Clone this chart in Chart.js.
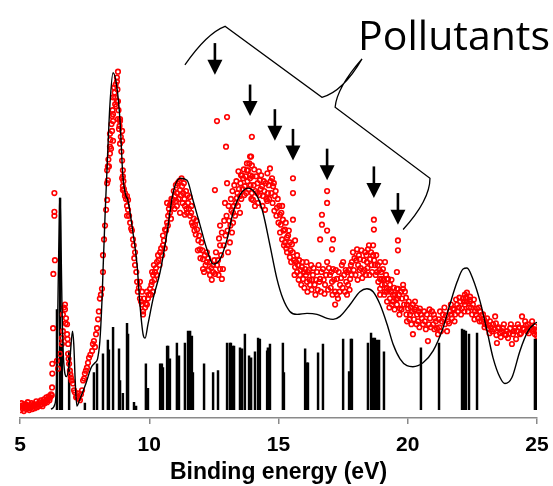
<!DOCTYPE html>
<html>
<head>
<meta charset="utf-8">
<script src="https://cdn.jsdelivr.net/npm/chart.js@4.4.0/dist/chart.umd.min.js"></script>
<style>
  html, body { margin: 0; padding: 0; background: #fff; }
  #wrap { width: 553px; height: 486px; position: relative; }
</style>
</head>
<body>
<div id="wrap"><canvas id="chart"></canvas></div>
<script>
// --- Data (binding energy in eV, intensity in arbitrary units) ---
const xTicks = [5, 10, 15, 20, 25];

// measured spectrum, split by energy range: [eV, intensity]
const expOnset = [
  [5.00,12],[5.03,8],[5.06,15],[5.09,10],[5.12,13],[5.15,7],[5.18,11],[5.21,14],[5.24,9],[5.27,12],
  [5.30,16],[5.33,10],[5.36,8],[5.39,13],[5.42,11],[5.45,15],[5.48,9],[5.51,12],[5.54,14],[5.57,10],
  [5.60,13],[5.63,17],[5.66,11],[5.69,14],[5.72,12],[5.75,16],[5.78,13],[5.81,18],[5.84,14],[5.87,12],
  [5.90,16],[5.93,19],[5.96,15],[5.99,17],[6.02,21],[6.05,16],[6.08,19],[6.11,22],[6.14,18],[6.17,21],
  [6.20,24],[6.23,23],[6.24,31],[6.25,45],[6.25,55],[6.28,91],[6.29,146],[6.33,205],[6.33,209],[6.33,228],
  [6.35,160]
];
const expRise = [
  [6.43,58],[6.47,50],[6.55,65],[6.62,75],[6.62,81],[6.66,88],[6.66,105],[6.70,112],[6.74,115],[6.74,110],
  [6.76,96],[6.78,101],[6.82,95],[6.82,85],[6.84,80],[6.86,75],[6.86,65],[6.88,60],[6.90,55],[6.93,48],
  [6.95,44],[6.97,41],[7.00,38],[7.05,35],[7.09,28],[7.12,26],[7.17,21],[7.20,22],[7.24,25],[7.28,20],
  [7.32,18],[7.36,24],[7.40,28],[7.44,38],[7.48,40],[7.51,45],[7.55,48],[7.59,51],[7.63,56],[7.67,61],
  [7.72,64],[7.79,68],[7.82,75],[7.86,78],[7.90,72],[7.94,85],[7.98,91],[8.02,100],[8.05,108],[8.09,121],
  [8.13,125],[8.17,131],[8.21,148],[8.21,165],[8.25,181],[8.29,195],[8.33,211],[8.37,221],[8.37,238]
];
const expPeak = [
  [8.37,251],[8.40,241],[8.40,255],[8.42,262],[8.44,255],[8.48,268],[8.48,275],[8.48,288],[8.50,282],[8.52,273],
  [8.54,298],[8.56,291],[8.56,306],[8.58,312],[8.60,281],[8.60,301],[8.60,308],[8.60,325],[8.64,335],[8.66,330],
  [8.68,318],[8.68,325],[8.70,338],[8.72,316],[8.75,321],[8.75,341],[8.75,345],[8.77,333],[8.79,321],[8.79,351],
  [8.79,303],[8.81,312],[8.83,293],[8.85,296],[8.87,278],[8.87,301],[8.87,303],[8.90,285],[8.92,270],[8.95,243],
  [8.95,261],[8.95,281],[8.95,291],[8.98,231],[8.98,235],[8.98,245],[8.98,251],[9.00,240],[9.02,232],[9.06,225],
  [9.06,228],[9.10,222],[9.14,205],[9.14,215],[9.14,225],[9.18,211],[9.18,221],[9.22,205],[9.26,198],[9.30,192],
  [9.33,190],[9.37,181],[9.40,175],[9.42,162],[9.45,155],[9.45,168],[9.50,148],[9.53,138],[9.56,128],[9.60,132],
  [9.64,121],[9.64,138],[9.68,118],[9.72,115],[9.72,128],[9.76,105],[9.76,108],[9.80,121],[9.84,112],[9.87,116],
  [9.91,115],[9.91,128],[9.95,121],[9.98,125],[10.03,131],[10.05,125],[10.08,135],[10.11,138],[10.11,148],[10.14,128],
  [10.15,145],[10.18,155],[10.20,140],[10.22,148],[10.26,152],[10.28,145],[10.30,158],[10.34,165],[10.36,160],[10.40,155],
  [10.42,168],[10.46,172],[10.50,165],[10.53,175],[10.53,185],[10.57,180],[10.60,172],[10.61,191],[10.65,190],[10.69,198],
  [10.69,218],[10.72,195],[10.73,205],[10.76,212],[10.80,208],[10.80,216],[10.84,202],[10.86,222],[10.88,215],[10.92,221],
  [10.95,230],[10.98,212],[11.00,225],[11.03,236],[11.04,220],[11.07,215],[11.07,228],[11.10,238],[11.13,222],[11.16,240],
  [11.19,208],[11.19,231],[11.23,226],[11.25,243],[11.27,235],[11.29,218],[11.31,228],[11.34,238],[11.36,222],[11.38,206],
  [11.38,215],[11.42,230],[11.44,212],[11.46,208],[11.48,226],[11.50,218],[11.54,212],[11.56,224],[11.58,205],[11.62,208],
  [11.63,215],[11.65,198],[11.69,195],[11.72,202],[11.75,190],[11.77,196],[11.80,186],[11.82,200],[11.85,191],[11.88,170],
  [11.90,180],[11.93,185]
];
const expMiddle = [
  [11.96,171],[11.98,162],[12.02,178],[12.05,170],[12.08,151],[12.08,161],[12.12,148],[12.15,165],[12.18,155],[12.23,158],
  [12.23,168],[12.28,162],[12.30,150],[12.35,145],[12.35,158],[12.40,152],[12.42,140],[12.47,148],[12.47,155],[12.52,160],
  [12.55,146],[12.58,168],[12.62,155],[12.66,160],[12.68,145],[12.70,182],[12.74,151],[12.74,175],[12.74,195],[12.78,165],
  [12.81,141],[12.81,188],[12.85,151],[12.88,175],[12.90,200],[12.93,218],[12.95,185],[12.99,205],[13.03,190],[13.05,168],
  [13.07,215],[13.09,200],[13.12,178],[13.14,195],[13.16,222],[13.18,210],[13.20,188],[13.22,230],[13.24,198],[13.24,208],
  [13.27,215],[13.29,236],[13.32,205],[13.35,218],[13.37,240],[13.39,223],[13.41,228],[13.43,215],[13.45,250],[13.47,232],
  [13.51,208],[13.51,225],[13.53,238],[13.56,222],[13.59,246],[13.61,232],[13.63,243],[13.66,252],[13.68,226],[13.70,235],
  [13.73,245],[13.75,228],[13.80,240],[13.82,251],[13.85,232],[13.87,258],[13.90,243],[13.92,236],[13.95,222],[13.97,228],
  [13.99,245],[14.01,221],[14.04,236],[14.06,252],[14.09,215],[14.11,230],[14.13,245],[14.17,228],[14.19,238],[14.21,218],
  [14.24,250],[14.26,226],[14.28,241],[14.31,232],[14.33,246],[14.36,235],[14.38,215],[14.40,225],[14.43,240],[14.45,230],
  [14.48,211],[14.51,238],[14.53,222],[14.56,220],[14.57,248],[14.59,228],[14.62,236],[14.64,222],[14.70,240],[14.72,228],
  [14.75,243],[14.77,218],[14.79,235],[14.82,238],[14.84,210],[14.86,225],[14.89,230],[14.92,205],[14.94,213],[14.97,222],
  [15.00,198],[15.03,215],[15.06,188],[15.06,206],[15.09,196],[15.11,208],[15.14,181],[15.14,215],[15.17,201],[15.19,190],
  [15.21,175],[15.25,178],[15.25,191],[15.28,198],[15.30,172],[15.33,168],[15.33,183],[15.35,175],[15.37,185],[15.40,190],
  [15.44,163],[15.44,178],[15.47,170],[15.49,158],[15.52,176],[15.55,168],[15.60,160],[15.62,145],[15.64,153],[15.64,180],
  [15.68,158],[15.72,148],[15.72,165],[15.75,155],[15.78,140],[15.80,160],[15.83,145],[15.86,150],[15.88,135],[15.91,153],
  [15.93,158],[15.95,141],[15.98,148],[16.00,132],[16.03,151],[16.06,145],[16.08,158],[16.10,138],[16.12,128],[16.14,148],
  [16.18,150],[16.20,140],[16.22,135],[16.26,155],[16.28,130],[16.30,140],[16.33,145],[16.36,152],[16.40,135],[16.43,125],
  [16.46,140],[16.49,148],[16.52,130],[16.55,155],[16.58,138],[16.61,141],[16.64,128],[16.66,148],[16.72,151],[16.75,140],
  [16.78,126],[16.80,135],[16.84,145],[16.88,158],[16.92,130],[16.95,152],[16.99,145],[17.02,132],[17.04,148],[17.07,138],
  [17.09,125],[17.11,151],[17.15,140],[17.19,115],[17.19,128],[17.22,150],[17.26,125],[17.26,141],[17.30,121],[17.33,148],
  [17.36,128],[17.38,135],[17.42,142],[17.45,155],[17.48,132],[17.50,158],[17.54,145],[17.57,128],[17.60,150],[17.62,138],
  [17.65,125],[17.65,148],[17.69,135],[17.72,150],[17.75,130],[17.77,141],[17.80,155],[17.82,145],[17.84,158],[17.88,168],
  [17.91,150],[17.94,162],[17.98,145],[18.01,160],[18.04,171],[18.06,140],[18.08,155],[18.11,165],[18.13,150],[18.15,161],
  [18.18,152],[18.21,170],[18.24,142],[18.27,148],[18.30,160],[18.33,150],[18.35,168],[18.38,145],[18.40,165],[18.42,158],
  [18.44,152],[18.46,171],[18.50,175],[18.52,145],[18.54,161],[18.58,168],[18.60,155],[18.62,148],[18.66,165],[18.70,160],
  [18.73,155],[18.76,145],[18.78,165],[18.81,148],[18.84,155],[18.86,138],[18.90,150]
];
const expTail = [
  [18.93,125],[18.93,131],[18.93,141],[18.93,158],[18.97,148],[19.00,135],[19.00,141],[19.04,151],[19.07,140],[19.09,125],
  [19.12,128],[19.12,135],[19.12,158],[19.16,145],[19.18,132],[19.20,118],[19.20,128],[19.20,141],[19.24,141],[19.27,130],
  [19.29,112],[19.31,121],[19.31,135],[19.35,128],[19.37,140],[19.39,115],[19.43,118],[19.43,125],[19.47,132],[19.49,110],
  [19.51,125],[19.55,120],[19.58,115],[19.58,131],[19.58,148],[19.62,121],[19.62,131],[19.66,125],[19.68,105],[19.70,111],
  [19.74,128],[19.76,110],[19.78,121],[19.82,131],[19.82,135],[19.86,115],[19.89,128],[19.93,122],[19.95,105],[19.97,98],
  [19.97,115],[20.01,111],[20.04,118],[20.06,100],[20.09,105],[20.12,112],[20.14,95],[20.16,108],[20.20,85],[20.20,115],
  [20.24,100],[20.26,110],[20.28,118],[20.32,112],[20.34,95],[20.36,105],[20.40,98],[20.43,108],[20.45,92],[20.47,111],
  [20.51,105],[20.55,101],[20.59,95],[20.63,108],[20.66,98],[20.70,90],[20.74,105],[20.78,78],[20.82,95],[20.84,110],
  [20.86,101],[20.90,92],[20.94,108],[20.98,95],[21.01,105],[21.03,90],[21.05,101],[21.09,98],[21.13,91],[21.17,85],
  [21.20,100],[21.22,92],[21.25,108],[21.28,88],[21.32,98],[21.36,105],[21.40,100],[21.42,112],[21.44,95],[21.48,104],
  [21.52,88],[21.56,98],[21.60,96],[21.63,108],[21.67,115],[21.69,105],[21.71,101],[21.75,111],[21.79,110],[21.81,98],
  [21.83,105],[21.87,120],[21.91,115],[21.94,108],[21.98,112],[22.00,122],[22.02,118],[22.06,105],[22.10,111],[22.14,121],
  [22.17,118],[22.19,108],[22.21,115],[22.21,125],[22.25,122],[22.29,118],[22.29,127],[22.33,108],[22.37,112],[22.39,120],
  [22.41,118],[22.41,123],[22.45,112],[22.49,105],[22.52,115],[22.56,120],[22.58,100],[22.60,108],[22.64,105],[22.68,111],
  [22.72,101],[22.76,112],[22.78,98],[22.80,108],[22.84,104],[22.87,98],[22.91,105],[22.95,100],[22.97,92],[22.99,95],
  [23.03,96],[23.07,101],[23.10,91],[23.14,94],[23.16,86],[23.18,98],[23.22,92],[23.26,88],[23.30,95],[23.34,90],
  [23.38,103],[23.41,96],[23.43,84],[23.45,76],[23.49,91],[23.53,92],[23.57,86],[23.60,82],[23.64,88],[23.68,91],
  [23.72,95],[23.76,85],[23.80,84],[23.84,88],[23.88,81],[23.92,86],[23.96,91],[23.99,95],[24.03,75],[24.07,85],
  [24.11,88],[24.15,91],[24.19,80],[24.23,88],[24.26,95],[24.30,92],[24.34,85],[24.38,86],[24.42,103],[24.46,91],
  [24.50,90],[24.54,98],[24.57,94],[24.61,88],[24.65,95],[24.69,86],[24.73,91],[24.77,92],[24.81,98],[24.85,88],
  [24.88,90],[24.92,85],[24.92,93],[24.96,88],[25.00,83]
];
// isolated points sticking out above the spectrum (pollutant lines)
const expPollutants = [
  [12.54,231],[12.62,301],[12.97,275],[13.01,238],[13.01,305],[13.55,246],[13.78,251],[13.78,258],[13.90,246],[13.90,265],
  [13.94,265],[13.97,256],[13.97,285],[14.67,253],[15.56,201],[15.56,228],[15.56,243],[16.61,181],[16.68,196],[16.68,206],
  [16.88,190],[16.88,218],[16.88,230],[17.07,171],[17.11,181],[18.66,175],[18.69,191],[18.69,201],[19.62,170],[19.62,180]
];

// calculated (broadened) spectrum
const calcEnergy = [
  6.20, 6.35, 6.42, 6.48, 6.53, 6.55, 6.58, 6.62, 6.68, 6.80, 6.93, 7.03, 7.08, 7.14, 7.20, 7.30, 7.55, 7.75, 7.90, 8.00,
  8.09, 8.17, 8.21, 8.29, 8.37, 8.48, 8.60, 8.75, 8.87, 8.98, 9.10, 9.16, 9.26, 9.37, 9.53, 9.64, 9.76, 9.84, 9.95, 10.15,
  10.42, 10.69, 10.92, 11.19, 11.46, 11.69, 11.96, 12.23, 12.47, 12.74, 13.01, 13.24, 13.51, 13.82, 14.17, 14.40, 14.67, 14.94, 15.17, 15.44,
  15.72, 16.10, 16.49, 16.88, 17.11, 17.38, 17.77, 18.15, 18.42, 18.66, 18.93, 19.20, 19.43, 19.70, 19.97, 20.20, 20.59, 20.98, 21.36, 21.63,
  21.91, 22.14, 22.29, 22.52, 22.80, 23.07, 23.30, 23.57, 23.76, 24.03, 24.34, 24.65, 24.92, 25.00
];
const calcIntensity = [
  9, 14, 40, 140, 215, 223, 190, 120, 62, 42, 60, 88, 75, 35, 12, 18, 35, 51, 56, 60,
  78, 118, 148, 205, 255, 318, 350, 335, 301, 245, 225, 222, 208, 188, 155, 115, 85, 81, 95, 121,
  148, 188, 228, 243, 241, 221, 196, 171, 156, 161, 181, 208, 226, 233, 225, 208, 175, 141, 121, 108,
  105, 106, 105, 101, 100, 103, 115, 128, 131, 128, 115, 95, 75, 60, 53, 52, 56, 68, 91, 115,
  138, 151, 152, 141, 118, 88, 61, 41, 35, 41, 68, 88, 96, 97
];

// calculated transitions (stick spectrum)
const stickEnergy = [
  6.43, 6.55, 6.62, 6.90, 7.51, 7.86, 7.98, 8.21, 8.40, 8.44, 8.60, 8.83, 8.87, 8.98, 9.14, 9.18, 9.41, 9.49, 9.87, 9.95,
  10.42, 10.49, 10.53, 10.69, 10.73, 10.80, 11.07, 11.15, 11.38, 11.50, 11.58, 11.65, 11.69, 12.12, 12.47, 12.66, 13.01, 13.12, 13.16, 13.24,
  13.28, 13.51, 13.59, 13.70, 13.86, 13.94, 14.09, 14.21, 14.28, 14.56, 14.59, 14.67, 15.17, 15.21, 16.03, 16.10, 16.14, 16.53, 16.72, 17.50,
  17.73, 17.80, 17.84, 18.46, 18.58, 18.66, 18.73, 18.81, 18.89, 19.08, 20.51, 21.21, 22.10, 22.18, 22.25, 22.37, 22.68, 24.92, 24.96
];
const stickStrength = [
  110, 223, 75, 68, 15, 46, 55, 65, 79, 69, 92, 70, 38, 25, 96, 85, 16, 12, 55, 30,
  55, 55, 51, 73, 73, 60, 76, 63, 76, 88, 88, 83, 46, 55, 46, 48, 76, 76, 76, 73,
  73, 71, 70, 85, 63, 61, 67, 81, 80, 68, 71, 75, 76, 46, 70, 56, 56, 66, 75, 80,
  47, 80, 80, 76, 86, 81, 81, 79, 79, 67, 71, 76, 90, 89, 88, 85, 86, 80, 80
];
const stickBase = 8.5;

// --- Annotation geometry (eV, intensity) ---
const arrowEnergy = [12.54, 13.90, 14.86, 15.56, 16.88, 18.69, 19.62];
const arrowTop = [380, 338, 313, 293, 273, 255, 228];
const arrowTip = [348, 306, 281, 261, 241, 223, 196];
const bracePath = [
  ['M', 11.38, 358],
  ['Q', 12.23, 390, 12.93, 397],
  ['L', 16.68, 325],
  ['Q', 17.50, 331, 18.23, 364],
  ['Q', 17.26, 335, 17.19, 315],
  ['L', 20.86, 243],
  ['Q', 20.86, 221, 19.82, 191]
];
const labelText = 'Pollutants';
const labelPos = [18.08, 373];

// --- Build datasets ---
const toXY = arr => arr.map(p => ({ x: p[0], y: p[1] }));
const expData = toXY([].concat(expOnset, expRise, expPeak, expMiddle, expTail, expPollutants));
const calcData = calcEnergy.map((e, i) => ({ x: e, y: calcIntensity[i] }));
const stickData = stickEnergy.map((e, i) => ({ x: e, y: [stickBase, stickStrength[i]] }));

const annotations = {
  id: 'annotations',
  afterDatasetsDraw(chart) {
    const { ctx, scales: { x, y } } = chart;
    const px = v => x.getPixelForValue(v);
    const py = v => y.getPixelForValue(v);
    ctx.save();

    // arrows
    ctx.strokeStyle = '#000';
    ctx.fillStyle = '#000';
    arrowEnergy.forEach((e, i) => {
      const ax = px(e), top = py(arrowTop[i]), tip = py(arrowTip[i]);
      ctx.lineWidth = 2.6;
      ctx.beginPath();
      ctx.moveTo(ax, top);
      ctx.lineTo(ax, tip - 12);
      ctx.stroke();
      ctx.beginPath();
      ctx.moveTo(ax - 7.5, tip - 15);
      ctx.lineTo(ax + 7.5, tip - 15);
      ctx.lineTo(ax, tip);
      ctx.closePath();
      ctx.fill();
    });

    // brace
    ctx.lineWidth = 1.3;
    ctx.beginPath();
    bracePath.forEach(seg => {
      if (seg[0] === 'M') ctx.moveTo(px(seg[1]), py(seg[2]));
      else if (seg[0] === 'L') ctx.lineTo(px(seg[1]), py(seg[2]));
      else ctx.quadraticCurveTo(px(seg[1]), py(seg[2]), px(seg[3]), py(seg[4]));
    });
    ctx.stroke();

    // label
    ctx.font = '41px "Open Sans", "Noto Sans", sans-serif';
    ctx.textAlign = 'left';
    ctx.textBaseline = 'alphabetic';
    ctx.fillText(labelText, px(labelPos[0]), py(labelPos[1]));
    ctx.restore();
  }
};

const axisGrey = '#8a8a8a';

new Chart(document.getElementById('chart'), {
  type: 'scatter',
  data: {
    datasets: [
      {
        type: 'line',
        label: 'Calculated',
        data: calcData,
        borderColor: '#000',
        borderWidth: 1.4,
        pointRadius: 0,
        fill: false,
        cubicInterpolationMode: 'monotone',
        order: 0
      },
      {
        type: 'scatter',
        label: 'Experiment',
        data: expData,
        pointStyle: 'circle',
        pointRadius: 2.3,
        pointBorderWidth: 1.6,
        pointBorderColor: '#ff0000',
        pointBackgroundColor: 'rgba(255,255,255,0)',
        order: 1
      },
      {
        type: 'bar',
        label: 'Transitions',
        data: stickData,
        backgroundColor: '#000',
        borderWidth: 0,
        barThickness: 1.8,
        grouped: false,
        order: 2
      }
    ]
  },
  options: {
    responsive: true,
    maintainAspectRatio: false,
    animation: false,
    layout: { padding: { left: 20, right: 16, top: 0, bottom: 0 } },
    scales: {
      x: {
        type: 'linear',
        min: 5,
        max: 25,
        offset: false,
        afterBuildTicks: axis => { axis.ticks = xTicks.map(v => ({ value: v })); },
        grid: { offset: false, drawOnChartArea: false, drawTicks: true, tickLength: 6, color: axisGrey, lineWidth: 1.5 },
        border: { display: true, color: axisGrey, width: 1.5 },
        ticks: {
          padding: 3,
          color: '#000',
          maxRotation: 0,
          font: { family: '"Liberation Sans", Arial, sans-serif', size: 21, weight: 'bold', lineHeight: 1.714 }
        },
        title: {
          display: true,
          text: 'Binding energy (eV)',
          color: '#000',
          padding: { top: 0, bottom: 6 },
          font: { family: '"Liberation Sans", Arial, sans-serif', size: 23, weight: 'bold', lineHeight: 0.609 }
        }
      },
      y: { display: false, min: 0, max: 418 }
    },
    plugins: {
      legend: { display: false },
      tooltip: { enabled: false }
    }
  },
  plugins: [annotations]
});
</script>
</body>
</html>
